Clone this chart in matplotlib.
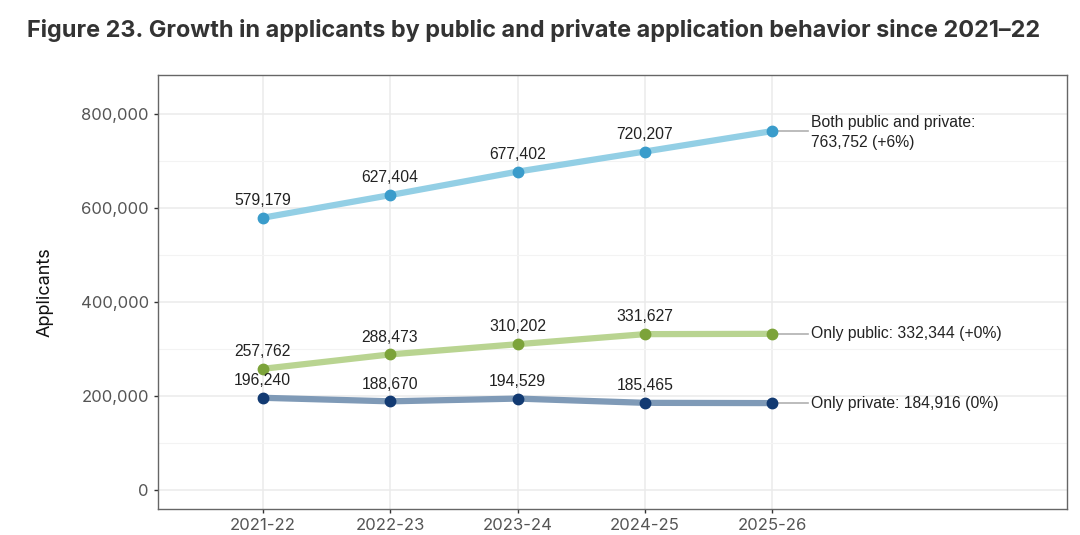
import matplotlib
matplotlib.use("Agg")
import matplotlib.pyplot as plt
from matplotlib.ticker import FuncFormatter, MultipleLocator

years = ["2021-22", "2022-23", "2023-24", "2024-25", "2025-26"]
both = [579179, 627404, 677402, 720207, 763752]
only_public = [257762, 288473, 310202, 331627, 332344]
only_private = [196240, 188670, 194529, 185465, 184916]
end_labels = ["Both public and private:\n763,752 (+6%)",
              "Only public: 332,344 (+0%)",
              "Only private: 184,916 (0%)"]

series = [
    (both, "#93cfe5", "#3a9ccb"),
    (only_public, "#b9d491", "#7ca33a"),
    (only_private, "#7f9ab7", "#123a72"),
]

fig = plt.figure(figsize=(10.8, 5.35), dpi=100)
ax = fig.add_axes([158/1080, 1-509/535, (1067-158)/1080, (509-75)/535])

x = list(range(len(years)))
for vals, lc, mc in series:
    ax.plot(x, vals, color=lc, lw=4.5, solid_capstyle="round", zorder=3)
    ax.plot(x, vals, 'o', color=mc, ms=7.5, zorder=4)
    for xi, v in zip(x[:-1], vals[:-1]):
        ax.annotate(f"{v:,}", (xi, v), xytext=(0, 7), textcoords="offset points",
                    ha="center", va="bottom", fontsize=11.3, color="#222222",
                    family="Liberation Sans", zorder=5)

for (vals, lc, mc), lab in zip(series, end_labels):
    xe = x[-1]
    ye = vals[-1]
    ax.plot([xe, xe + 0.28], [ye, ye], color="#b0b0b0", lw=1.2, zorder=2)
    if "\n" in lab:
        ax.text(xe + 0.3, ye + 34000, lab, ha="left", va="top", fontsize=11.3,
                color="#222222", family="Liberation Sans", linespacing=1.45)
    else:
        ax.text(xe + 0.3, ye, lab, ha="left", va="center", fontsize=11.3,
                color="#222222", family="Liberation Sans")

ax.set_xlim(-0.82, 6.31)
ax.set_ylim(-40400, 883000)
ax.set_xticks(x)
ax.set_xticklabels(years)
ax.yaxis.set_major_locator(MultipleLocator(200000))
ax.yaxis.set_minor_locator(MultipleLocator(100000))
ax.yaxis.set_major_formatter(FuncFormatter(lambda v, p: f"{int(v):,}"))
ax.grid(which="major", color="#ebebeb", lw=1.1, zorder=0)
ax.grid(which="minor", axis="y", color="#f3f3f3", lw=0.8, zorder=0)
ax.tick_params(axis="both", which="major", labelsize=12, labelcolor="#555555",
               color="#333333", length=3, width=1)
ax.tick_params(axis="y", which="minor", length=0)
for lab in ax.get_xticklabels() + ax.get_yticklabels():
    lab.set_family("Inter")
for s in ax.spines.values():
    s.set_color("#666666")
    s.set_linewidth(1)
ax.set_ylabel("Applicants", fontsize=13, family="Inter", color="#111111", labelpad=20)

fig.text(27/1080, 1-30/535, "Figure 23. Growth in applicants by public and private application behavior since 2021\u201322",
         ha="left", va="center", fontsize=16.9, fontweight="bold", family="Inter", color="#333333")

fig.savefig("out.png", dpi=100)
